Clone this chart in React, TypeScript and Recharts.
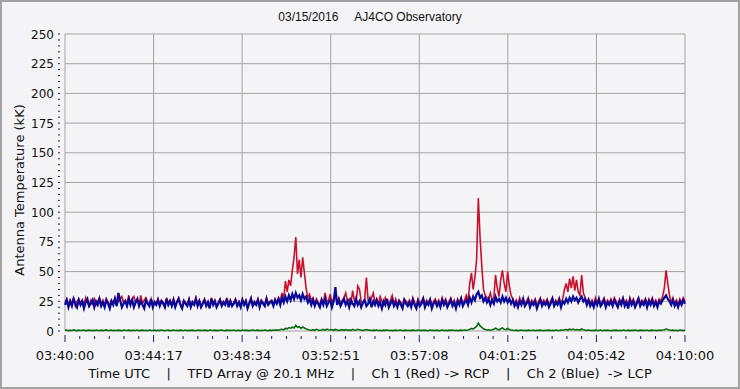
import React from "react";
import { LineChart, Line, XAxis, YAxis, CartesianGrid } from "recharts";

// one sample every 5 seconds, 03:40:00 -> 04:10:00
const ch1Red = [
  24,27,22,26,23,28,21,25,27,23,26,22,28,24,21,26,23,27,22,25,
  28,23,26,21,27,24,22,26,23,28,22,25,27,29,24,26,22,30,23,27,
  29,24,27,22,30,23,26,28,24,22,27,21,25,23,27,22,26,24,21,28,
  23,26,22,27,21,25,28,23,20,26,24,22,27,21,25,23,28,22,26,21,
  24,27,22,25,20,28,23,26,21,24,27,22,25,23,28,21,26,22,24,27,
  22,25,21,27,23,26,20,24,28,22,25,23,27,21,26,24,22,28,23,25,
  26,22,27,24,28,25,32,27,42,33,43,38,51,62,79,48,60,45,62,49,
  36,28,31,26,28,23,27,24,22,27,23,32,25,26,31,24,27,30,24,28,
  23,26,28,32,25,27,22,34,26,24,38,35,25,23,27,45,26,24,28,32,
  24,27,23,29,25,22,28,24,21,26,30,23,27,22,26,24,21,27,25,23,
  26,22,28,24,21,27,23,25,28,22,26,24,27,21,25,27,23,26,22,28,
  24,27,22,25,28,23,26,21,27,24,28,23,26,30,25,40,49,35,45,60,
  112,79,55,35,30,28,27,32,26,28,47,36,29,43,51,40,33,50,38,30,
  27,23,26,22,28,24,27,23,25,28,22,26,24,27,21,25,28,23,26,24,
  27,22,25,28,23,26,24,28,22,27,35,40,33,44,36,46,34,43,33,30,
  47,32,28,24,27,23,26,22,28,24,27,23,25,28,22,26,24,27,23,28,
  25,22,27,24,28,23,26,21,28,24,27,22,25,28,23,26,24,27,22,27,
  24,28,23,26,22,27,25,29,36,51,40,30,24,28,23,26,22,27,24,28,
  25,
];

const ch2Blue = [
  22,26,20,25,21,27,23,20,26,22,25,19,24,27,21,23,26,20,25,22,
  27,21,24,20,26,23,19,25,22,27,21,32,26,20,23,25,21,27,22,26,
  20,24,27,21,25,22,19,26,23,21,27,20,24,22,26,21,25,23,20,27,
  22,25,21,26,20,24,27,22,19,25,23,21,26,20,24,22,27,21,25,20,
  23,26,21,24,19,27,22,25,20,23,26,21,24,22,27,20,25,21,23,26,
  21,24,20,26,22,25,19,23,27,21,24,22,26,20,25,23,21,27,22,24,
  25,21,26,23,27,22,28,24,29,25,30,26,31,27,32,28,30,26,31,27,
  29,24,27,22,26,21,25,23,20,26,22,27,21,24,26,20,25,37,22,26,
  21,24,27,22,25,20,26,23,21,27,22,25,20,24,26,21,23,27,20,25,
  22,26,21,24,19,25,22,27,20,23,26,21,24,20,25,22,19,26,23,21,
  24,20,26,22,19,25,21,23,27,20,24,22,26,19,23,25,21,24,20,26,
  22,25,20,23,26,21,24,19,25,22,27,21,24,26,22,28,24,29,26,31,
  33,28,30,25,28,24,27,22,26,23,29,25,27,24,29,25,28,24,27,23,
  26,21,24,20,25,22,27,21,23,26,20,24,22,25,19,23,26,21,24,22,
  25,20,23,27,21,24,22,26,20,25,23,27,24,28,25,29,26,28,24,27,
  29,25,27,22,26,21,24,20,25,22,27,21,23,26,20,24,22,25,21,26,
  23,20,25,22,27,21,24,19,26,22,25,20,23,27,21,24,22,26,20,25,
  22,26,21,24,20,25,23,26,28,30,27,25,22,26,21,24,20,25,22,26,
  23,
];

const refGreen = [
  .5,.8,.3,.6,.4,.9,.5,.3,.7,.4,.6,.8,.3,.5,.7,.4,.6,.3,.8,.5,
  .4,.7,.3,.6,.9,.4,.5,.8,.3,.6,.4,.7,.5,.3,.8,.6,.4,.7,.3,.5,
  .6,.4,.8,.3,.5,.7,.4,.6,.3,.8,.5,.4,.7,.3,.6,.5,.8,.4,.3,.6,
  .7,.3,.5,.8,.4,.6,.3,.7,.5,.4,.8,.3,.6,.5,.7,.4,.3,.8,.5,.6,
  .4,.7,.5,.3,.8,.6,.4,.7,.3,.5,.6,.8,.4,.3,.7,.5,.6,.4,.8,.3,
  .6,.5,.3,.8,.4,.7,.5,.3,.6,.8,.4,.5,.7,.3,.6,.4,.8,.5,.3,.7,
  .5,.8,.6,.9,.7,1.2,1.5,1.1,2.2,1.8,2.9,2.4,3.2,2.6,4.8,3.1,3.6,2.2,3.4,2.5,
  1.8,1.2,.9,.7,1.1,.6,1.4,.8,.5,.9,1.3,.7,1.5,1.1,.8,1.2,.6,1.3,.9,.5,
  .8,1.1,.6,1.2,.7,.9,.5,1.3,.8,.6,1.4,1.1,.7,.5,.9,1.2,.6,.8,.4,.7,
  .5,.8,.4,.6,.3,.7,.5,.8,.4,.6,.3,.5,.7,.4,.6,.8,.3,.5,.7,.4,
  .6,.3,.7,.5,.4,.8,.3,.6,.5,.7,.4,.3,.8,.5,.6,.4,.7,.3,.5,.8,
  .4,.6,.3,.7,.5,.8,.4,.6,.3,.5,.7,.4,.8,.6,.9,1.4,2.1,1.6,2.8,3.9,
  6.7,4.2,3.1,1.8,1.2,.9,1.1,.7,1.0,1.4,2.3,1.5,1.0,1.9,2.6,1.4,1.2,2.2,1.3,.8,
  .6,.4,.7,.3,.5,.8,.4,.6,.3,.7,.5,.4,.8,.3,.6,.5,.7,.4,.3,.6,
  .5,.7,.4,.6,.3,.8,.5,.4,.7,.6,1.0,1.3,.8,1.5,1.1,1.6,.9,1.2,1.0,.8,
  1.7,1.1,.7,.5,.8,.4,.6,.3,.7,.5,.4,.8,.3,.6,.5,.7,.4,.3,.6,.5,
  .7,.4,.6,.3,.8,.5,.4,.7,.3,.6,.5,.8,.4,.3,.7,.5,.6,.4,.8,.3,
  .5,.7,.4,.6,.3,.8,.5,.9,1.1,1.6,1.2,.8,.5,.7,.4,.6,.3,.8,.5,.6,
  .4,
];

const timeLabels = [
  "03:40:00", "03:44:17", "03:48:34", "03:52:51",
  "03:57:08", "04:01:25", "04:05:42", "04:10:00",
];
const yLabels = [0, 25, 50, 75, 100, 125, 150, 175, 200, 225, 250];

const STEP = 5;
const SPAN = 1800;

const data = ch1Red.map((r, i) => ({
  t: i * STEP,
  red: r,
  blue: ch2Blue[i],
  green: refGreen[i],
}));

// 6 minor divisions per labelled interval
const xTicks = Array.from({ length: 43 }, (_, i) => (i * SPAN) / 42);
const xMajor = timeLabels.map((_, i) => (i * SPAN) / 7);
const yTicks = Array.from({ length: 51 }, (_, i) => i * 5);

const FONT = "'DejaVu Sans', Verdana, sans-serif";

const XTick = (props: any) => {
  const { x, y, payload } = props;
  const i = Math.round((payload.value * 42) / SPAN);
  const major = i % 6 === 0;
  return (
    <g>
      <line
        x1={x}
        x2={x}
        y1={y + (major ? 4 : 5)}
        y2={y + (major ? 11 : 8)}
        stroke="#1c1c70"
      />
      {major && (
        <text x={x} y={y + 29} textAnchor="middle" fontSize={13} fontFamily={FONT} fill="#111">
          {timeLabels[i / 6]}
        </text>
      )}
    </g>
  );
};

const YTick = (props: any) => {
  const { x, y, payload } = props;
  const v = payload.value;
  return (
    <g>
      <line x1={x - 7} x2={x - 5} y1={y} y2={y} stroke="#1c1c70" />
      {v % 25 === 0 && (
        <text x={x - 11} y={y + 4.5} textAnchor="end" fontSize={12} fontFamily={FONT} fill="#111">
          {v}
        </text>
      )}
    </g>
  );
};

export default function App() {
  return (
    <div
      style={{
        position: "absolute",
        left: 0,
        top: 0,
        width: 740,
        height: 389,
        background: "#f4f4f6",
        overflow: "hidden",
      }}
    >
      <LineChart
        width={740}
        height={389}
        data={data}
        margin={{ top: 34, right: 55, left: 0, bottom: 0 }}
        style={{ position: "absolute", left: 0, top: 0 }}
      >
        <CartesianGrid
          stroke="#a4a4a4"
          horizontalValues={yLabels}
          verticalValues={xMajor}
        />
        <XAxis
          dataKey="t"
          type="number"
          domain={[0, SPAN]}
          ticks={xTicks}
          interval={0}
          height={58}
          axisLine={false}
          tickLine={false}
          tickSize={0}
          tickMargin={0}
          tick={<XTick />}
        />
        <YAxis
          type="number"
          domain={[0, 250]}
          ticks={yTicks}
          interval={0}
          width={65}
          axisLine={false}
          tickLine={false}
          tickSize={0}
          tickMargin={0}
          tick={<YTick />}
        />
        <Line dataKey="red" stroke="#c8102e" strokeWidth={1.6} dot={false} isAnimationActive={false} />
        <Line dataKey="blue" stroke="#0a0a9a" strokeWidth={2.2} dot={false} isAnimationActive={false} />
        <Line dataKey="green" stroke="#0b6b12" strokeWidth={1.6} dot={false} isAnimationActive={false} />
      </LineChart>

      <div
        style={{
          position: "absolute",
          left: 0,
          width: 740,
          top: 10,
          textAlign: "center",
          fontFamily: "'Liberation Sans', Arial, sans-serif",
          fontSize: 12,
          color: "#111",
          whiteSpace: "pre",
        }}
      >
        {"03/15/2016     AJ4CO Observatory"}
      </div>

      <div
        style={{
          position: "absolute",
          left: 19,
          top: 190,
          transform: "translate(-50%, -50%) rotate(-90deg)",
          fontFamily: FONT,
          fontSize: 13,
          color: "#111",
          whiteSpace: "nowrap",
        }}
      >
        Antenna Temperature (kK)
      </div>

      <div
        style={{
          position: "absolute",
          left: 0,
          width: 740,
          top: 366,
          textAlign: "center",
          fontFamily: FONT,
          fontSize: 13,
          color: "#111",
          whiteSpace: "pre",
        }}
      >
        {"Time UTC    |    TFD Array @ 20.1 MHz    |    Ch 1 (Red) -> RCP    |    Ch 2 (Blue)  -> LCP"}
      </div>

      <div
        style={{
          position: "absolute",
          inset: 0,
          border: "2px solid #a2a2a2",
          boxSizing: "border-box",
          pointerEvents: "none",
        }}
      />
    </div>
  );
}
